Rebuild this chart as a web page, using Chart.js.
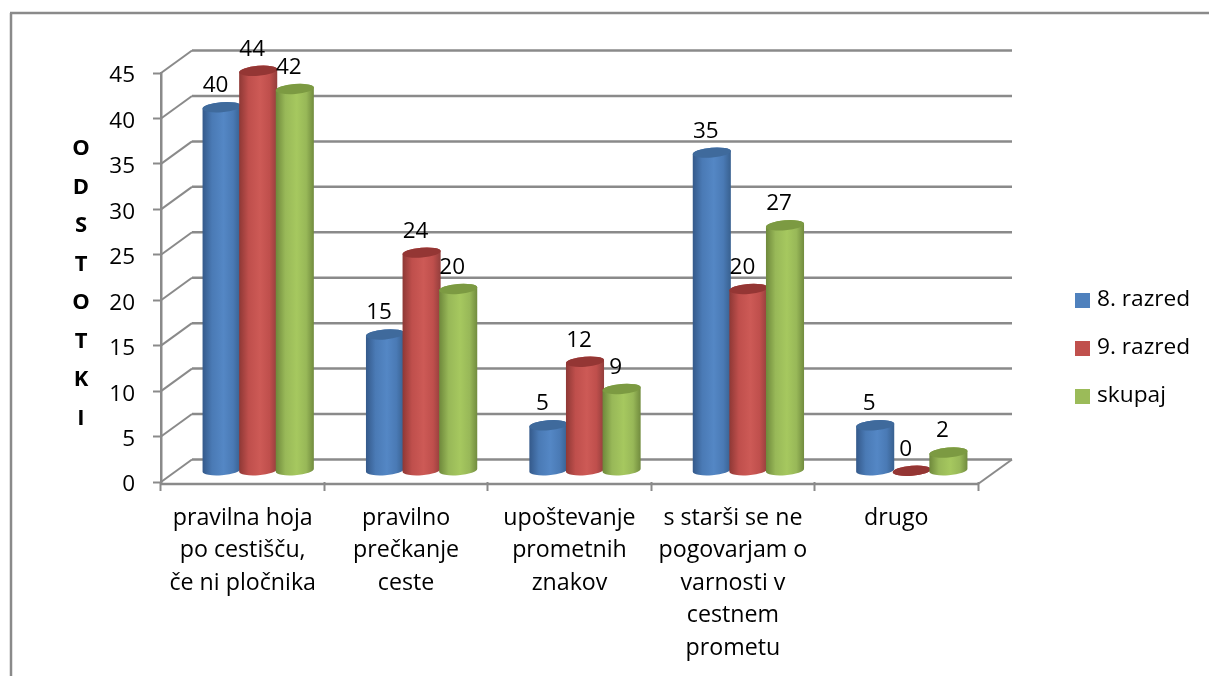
<!DOCTYPE html>
<html><head><meta charset="utf-8">
<style>html,body{margin:0;padding:0;background:#fff}#wrap{width:1209px;height:676px}canvas{display:block}</style>
<script src="https://cdn.jsdelivr.net/npm/chart.js@4"></script>
</head><body><div id="wrap"><canvas id="c" width="1209" height="676"></canvas></div>
<script>
const categories = [
  ['pravilna hoja','po cestišču,','če ni pločnika'],
  ['pravilno','prečkanje','ceste'],
  ['upoštevanje','prometnih','znakov'],
  ['s starši se ne','pogovarjam o','varnosti v','cestnem','prometu'],
  ['drugo']
];
const seriesNames = ['8. razred','9. razred','skupaj'];
const razred8 = [40,15,5,35,5];
const razred9 = [44,24,12,20,0];
const skupaj = [42,20,9,27,2];
const yTicks = [0,5,10,15,20,25,30,35,40,45];
const axisLetters = ['O','D','S','T','O','T','K','I'];
const swatch = ['#4f81bd','#c0504d','#9bbb59'];
const shades = [
  {edgeL:'#34598a',body:'#4a7ab5',mid:'#5487c5',edgeR:'#38608f',top:'#3f6a9c'},
  {edgeL:'#8e3835',body:'#bf4f4c',mid:'#cd5a56',edgeR:'#933e3c',top:'#943634'},
  {edgeL:'#6e883b',body:'#98b858',mid:'#a6c85f',edgeR:'#718b3e',top:'#7c9a42'}
];
const FONT = '"Open Sans", sans-serif';
const GRAY = '#8a8a8a';
const DEPTH = {x:31,y:-22.5};

function line(ctx,x1,y1,x2,y2,w,col){
  ctx.beginPath();ctx.moveTo(x1,y1);ctx.lineTo(x2,y2);
  ctx.lineWidth=w;ctx.strokeStyle=col||GRAY;ctx.stroke();
}
function cylinder(ctx,el,shade){
  const rx=el.width/2+0.8, ry=5, rot=-0.08;
  const cx=el.x+DEPTH.x/2, by=el.base+DEPTH.y/2, ty=el.y+DEPTH.y/2;
  const g=ctx.createLinearGradient(cx-rx,0,cx+rx,0);
  g.addColorStop(0,shade.edgeL);g.addColorStop(0.25,shade.body);
  g.addColorStop(0.55,shade.mid);g.addColorStop(0.8,shade.body);g.addColorStop(1,shade.edgeR);
  ctx.beginPath();
  ctx.ellipse(cx,by,rx,ry,rot,Math.PI,0,true);
  ctx.ellipse(cx,ty,rx,ry,rot,0,Math.PI,true);
  ctx.closePath();ctx.fillStyle=g;ctx.fill();
  ctx.beginPath();ctx.ellipse(cx,ty,rx,ry,rot,0,Math.PI*2);
  ctx.fillStyle=shade.top;ctx.fill();
}
const scene={
  id:'scene',
  beforeDraw(chart){
    const ctx=chart.ctx;
    ctx.save();
    ctx.fillStyle='#fff';ctx.fillRect(0,0,chart.width,chart.height);
    line(ctx,11,13,11,676,2.5);
    line(ctx,10,13,1209,13,2.5);
    ctx.restore();
    chart.scales.y.getLabelItems(chart.chartArea).forEach(item=>{
      if(!item.nudged){item.options.translation[1]+=3;item.nudged=true;}
    });
    chart.scales.x.getLabelItems(chart.chartArea);
  },
  beforeDatasetsDraw(chart){
    const ctx=chart.ctx,a=chart.chartArea,y=chart.scales.y;
    ctx.save();
    yTicks.forEach(v=>{
      const p=y.getPixelForValue(v);
      line(ctx,a.left,p,a.left+DEPTH.x,p+DEPTH.y,2);
      line(ctx,a.left+DEPTH.x,p+DEPTH.y,a.right+DEPTH.x+3,p+DEPTH.y,2.5);
    });
    const p0=y.getPixelForValue(0);
    line(ctx,a.right,p0+2,a.right+DEPTH.x+3,p0+DEPTH.y,2);
    line(ctx,a.left-1,p0+2,a.right+1,p0+2,2.5);
    chart.data.datasets.forEach((d,i)=>{
      chart.getDatasetMeta(i).data.forEach(el=>cylinder(ctx,el,shades[i]));
    });
    ctx.restore();
    return false;
  },
  afterDraw(chart){
    const ctx=chart.ctx;
    ctx.save();
    ctx.font='22.5px '+FONT;ctx.fillStyle='#000';ctx.textAlign='center';ctx.textBaseline='middle';
    chart.data.datasets.forEach((d,i)=>{
      chart.getDatasetMeta(i).data.forEach((el,j)=>{
        ctx.fillText(String(d.data[j]),el.x+DEPTH.x/2-6,el.y+DEPTH.y/2-21.5);
      });
    });
    ctx.font='bold 22px '+FONT;
    axisLetters.forEach((t,i)=>ctx.fillText(t,81,149+i*38.5));
    ctx.font='22.7px '+FONT;ctx.textAlign='left';
    chart.data.datasets.forEach((d,i)=>{
      const yy=300.5+i*48;
      ctx.fillStyle=swatch[i];ctx.fillRect(1075,yy-7.5,15,15);
      ctx.fillStyle='#000';ctx.fillText(d.label,1097,yy-0.5);
    });
    ctx.restore();
  }
};
new Chart(document.getElementById('c'),{
  type:'bar',
  data:{labels:categories,datasets:[
    {label:seriesNames[0],data:razred8,backgroundColor:swatch[0]},
    {label:seriesNames[1],data:razred9,backgroundColor:swatch[1]},
    {label:seriesNames[2],data:skupaj,backgroundColor:swatch[2]}
  ]},
  options:{
    responsive:false,animation:false,
    layout:{padding:{left:0,top:73,right:231,bottom:0}},
    datasets:{bar:{categoryPercentage:0.672,barPercentage:1}},
    plugins:{legend:{display:false},title:{display:false},tooltip:{enabled:false}},
    scales:{
      x:{
        afterFit(s){s.height=194;},
        border:{display:false},
        grid:{drawOnChartArea:false,drawTicks:true,tickLength:9,tickColor:GRAY,tickWidth:2},
        ticks:{autoSkip:false,maxRotation:0,minRotation:0,color:'#000',padding:11,
          font:{family:FONT,size:23.2,lineHeight:1.4}}
      },
      y:{
        min:0,max:45,
        afterFit(s){s.width=161;},
        afterBuildTicks(s){s.ticks=yTicks.map(v=>({value:v}));},
        border:{color:GRAY,width:2.5},
        grid:{drawOnChartArea:false,drawTicks:true,tickLength:8,tickColor:GRAY,tickWidth:2},
        ticks:{color:'#000',padding:18,font:{family:FONT,size:22.5}}
      }
    }
  },
  plugins:[scene]
});
</script></body></html>
